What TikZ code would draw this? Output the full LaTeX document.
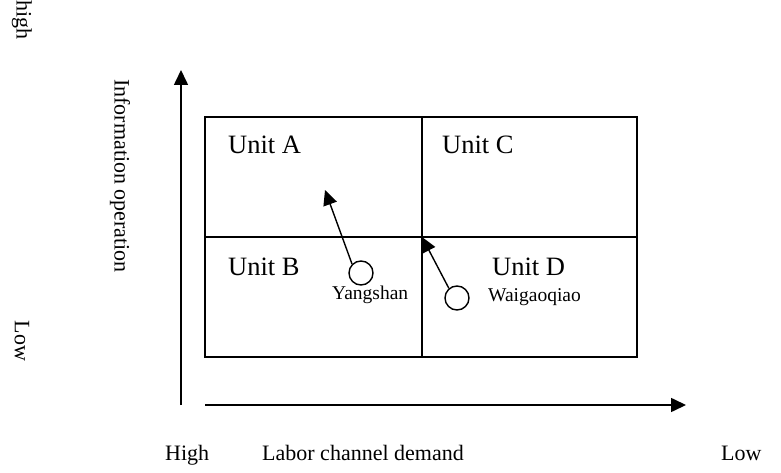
\documentclass[tikz,border=0pt]{standalone}
\usepackage{fontspec}
\setmainfont{Liberation Serif}
\usetikzlibrary{arrows.meta}

\begin{document}
\begin{tikzpicture}[x=1pt,y=-1pt,>={Triangle[length=15pt,width=14pt]},
  unit/.style={anchor=base west,inner sep=0pt,font=\fontsize{26.5}{30}\selectfont},
  port/.style={circle,draw,line width=1.4pt,minimum size=24pt,inner sep=0pt},
  portname/.style={anchor=base west,inner sep=0pt,font=\fontsize{19.5}{24}\selectfont},
  axisname/.style={inner sep=0pt,font=\fontsize{22}{26}\selectfont},
  sidename/.style={rotate=-90,inner sep=0pt,font=\fontsize{22}{26}\selectfont}]
  \useasboundingbox (0,0) rectangle (781,473);

  % quadrant frame
  \coordinate (nw) at (205,117);
  \coordinate (se) at (637,357);
  \coordinate (n) at (422,117);
  \coordinate (s) at (422,357);
  \coordinate (w) at (205,237);
  \coordinate (e) at (637,237);
  \coordinate (mid) at (422,237);
  \draw[line width=1.4pt] (nw) rectangle (se);
  \draw[line width=1.4pt] (n) -- (s);
  \draw[line width=1.4pt] (w) -- (e);

  % axes
  \coordinate (yfoot) at (181,405);
  \coordinate (ytop) at (181,70);
  \coordinate (xfoot) at (205,405);
  \coordinate (xend) at (686,405);
  \draw[->, line width=1.6pt] (yfoot) -- (ytop);
  \draw[->, line width=1.6pt] (xfoot) -- (xend);

  \node[unit] (unitA) at (228,154) {Unit A};
  \node[unit] (unitC) at (442,154) {Unit C};
  \node[unit] (unitB) at (228,275) {Unit B};
  \node[unit] (unitD) at (492,275) {Unit D};

  % ports and their moves
  \node[port] (yang) at (361,273) {};
  \node[port] (waig) at (457,298) {};
  \node[portname] (yangname) at (332,299) {Yangshan};
  \node[portname] (waigname) at (488,301) {Waigaoqiao};
  \coordinate (yangto) at (325,190);
  \draw[->, line width=1.4pt] (yang.135) -- (yangto);
  \draw[->, line width=1.4pt] (waig.130) -- (mid);

  % axis names
  \node[sidename] (hi) at (22,20) {high};
  \node[sidename] (info) at (120,176) {Information operation};
  \node[sidename] (lo) at (22,341) {Low};
  \node[axisname,anchor=base west] (xhi) at (165,460) {High};
  \node[axisname,anchor=base west] (labor) at (262,460) {Labor channel demand};
  \node[axisname,anchor=base west] (xlo) at (721,460) {Low};
\end{tikzpicture}
\end{document}
